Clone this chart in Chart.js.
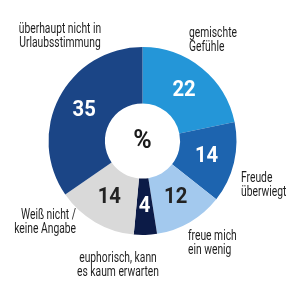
<!DOCTYPE html>
<html><head><meta charset="utf-8">
<script src="https://cdn.jsdelivr.net/npm/chart.js@4"></script>
<style>html,body{margin:0;padding:0;background:#fff}#wrap{width:300px;height:300px}</style>
</head><body><div id="wrap"><canvas id="c" width="300" height="300"></canvas></div>
<script>
const categories = ["gemischte Gefühle","Freude überwiegt","freue mich ein wenig","euphorisch, kann es kaum erwarten","Weiß nicht / keine Angabe","überhaupt nicht in Urlaubsstimmung"];
const values = [22,14,12,4,14,35];
const colors = ["#2496d8","#1d64af","#a3c9ee","#0c1b47","#d9d9d9","#1b4586"];
const numberColors = ["#fff","#fff","#222","#fff","#222","#fff"];
const labelLines = [["gemischte","Gefühle"],["Freude","überwiegt"],["freue mich","ein wenig"],["euphorisch, kann","es kaum erwarten"],["Weiß nicht /","keine Angabe"],["überhaupt nicht in","Urlaubsstimmung"]];
const centerText = "%";

// label anchor: [x, y of first line, align]
const labelLayout = [[189,33,"left"],[241,178,"left"],[188,236,"left"],[118,258,"center"],[76,215,"right"],[60,29,"center"]];

function squeezeText(ctx, t, x, y, s){
  ctx.save(); ctx.translate(x,y); ctx.scale(s,1); ctx.fillText(t,0,0); ctx.restore();
}

const textPlugin = {
  id:'texts',
  afterDatasetsDraw(chart){
    const ctx = chart.ctx;
    const meta = chart.getDatasetMeta(0);
    ctx.save();
    ctx.textBaseline = "middle";
    meta.data.forEach((arc,i)=>{
      const p = arc.getProps(['x','y','startAngle','endAngle','innerRadius','outerRadius']);
      const a = (p.startAngle+p.endAngle)/2;
      const r = (p.innerRadius+p.outerRadius)/2;
      ctx.font = "bold 22px Roboto,sans-serif";
      ctx.fillStyle = numberColors[i];
      ctx.textAlign = "center";
      squeezeText(ctx, String(values[i]), p.x + Math.cos(a)*r, p.y + Math.sin(a)*r, 0.92);
      const L = labelLayout[i];
      ctx.font = "14.5px Roboto,sans-serif";
      ctx.fillStyle = "#1e1e1e";
      ctx.textAlign = L[2];
      labelLines[i].forEach((t,k)=>squeezeText(ctx, t, L[0], L[1] + k*14.5, 0.71));
    });
    const p0 = meta.data[0];
    ctx.font = "bold 25px Roboto,sans-serif";
    ctx.fillStyle = "#1a1a1a";
    ctx.textAlign = "center";
    ctx.fillText(centerText, p0.x, p0.y + 1);
    ctx.restore();
  }
};

new Chart(document.getElementById('c'), {
  type:'doughnut',
  data:{labels:categories, datasets:[{data:values, backgroundColor:colors, borderWidth:0}]},
  options:{
    responsive:false, animation:false, cutout:'40%',
    layout:{padding:{left:48,right:63,top:47,bottom:65}},
    plugins:{legend:{display:false}, tooltip:{enabled:false}}
  },
  plugins:[textPlugin]
});
</script></body></html>
